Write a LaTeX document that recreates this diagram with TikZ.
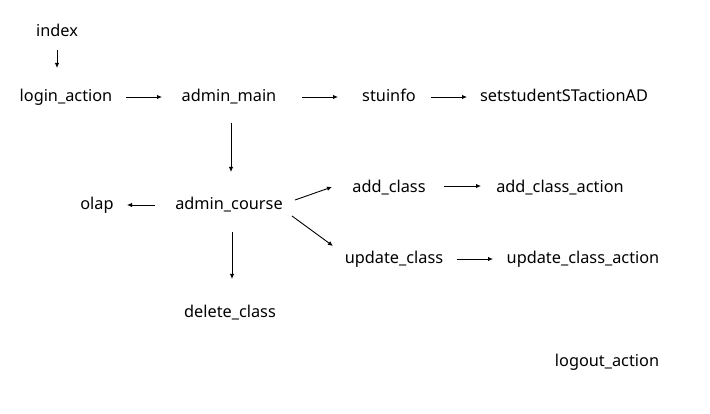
\documentclass[tikz,border=0pt]{standalone}
\usepackage{fontspec}
\setmainfont{Noto Sans}
\usetikzlibrary{arrows.meta}
\begin{document}
\begin{tikzpicture}[x=1pt,y=-1pt,
  lbl/.style={inner sep=0pt,text height=15pt,text depth=3pt,font=\fontsize{16.3}{18}\selectfont},
  arr/.style={draw,line width=0.9pt,-{Latex[length=5pt,width=4.5pt]}}]
\useasboundingbox (0,0) rectangle (710,414);
\node[lbl] (index) at (57,31) {index};
\node[lbl] (login) at (66,96) {login\_action};
\node[lbl] (amain) at (229,96) {admin\_main};
\node[lbl] (stu) at (389,96) {stuinfo};
\node[lbl] (setst) at (564,96) {setstudentSTactionAD};
\node[lbl] (course) at (229,204) {admin\_course};
\node[lbl] (olap) at (97,204) {olap};
\node[lbl] (addc) at (389,187) {add\_class};
\node[lbl] (addca) at (560,187) {add\_class\_action};
\node[lbl] (updc) at (394,258) {update\_class};
\node[lbl] (updca) at (583,258) {update\_class\_action};
\node[lbl] (delc) at (230,311) {delete\_class};
\node[lbl] (logout) at (607,360) {logout\_action};
\draw[arr,shorten <=19pt,shorten >=28pt] (index.center) -- (index.center |- login.center);
\draw[arr,shorten <=60pt,shorten >=67pt] ([yshift=-1pt]login.center) -- ([yshift=-1pt]amain.center);
\draw[arr,shorten <=73pt,shorten >=51pt] ([yshift=-1pt]amain.center) -- ([yshift=-1pt]stu.center);
\draw[arr,shorten <=42pt,shorten >=97pt] ([yshift=-1pt]stu.center) -- ([yshift=-1pt]setst.center);
\draw[arr,shorten <=27pt,shorten >=32pt] ([xshift=2pt]amain.center) -- ([xshift=2pt]amain.center |- course.center);
\draw[arr,shorten <=74pt] ([yshift=-1pt]course.center) -- ([yshift=-1pt,xshift=30pt]olap.center);
\draw[arr] ([shift={(66,-4)}]course.center) -- ([shift={(-57,0)}]addc.center);
\draw[arr,shorten <=55pt,shorten >=79pt] ([yshift=1pt]addc.center) -- ([yshift=1pt]addca.center);
\draw[arr] ([shift={(63,12)}]course.center) -- ([shift={(-61,-12)}]updc.center);
\draw[arr,shorten <=63pt,shorten >=90pt] ([yshift=-1pt]updc.center) -- ([yshift=-1pt]updca.center);
\draw[arr,shorten <=28pt,shorten >=32pt] ([xshift=3pt]course.center) -- ([xshift=3pt]course.center |- delc.center);
\end{tikzpicture}
\end{document}
